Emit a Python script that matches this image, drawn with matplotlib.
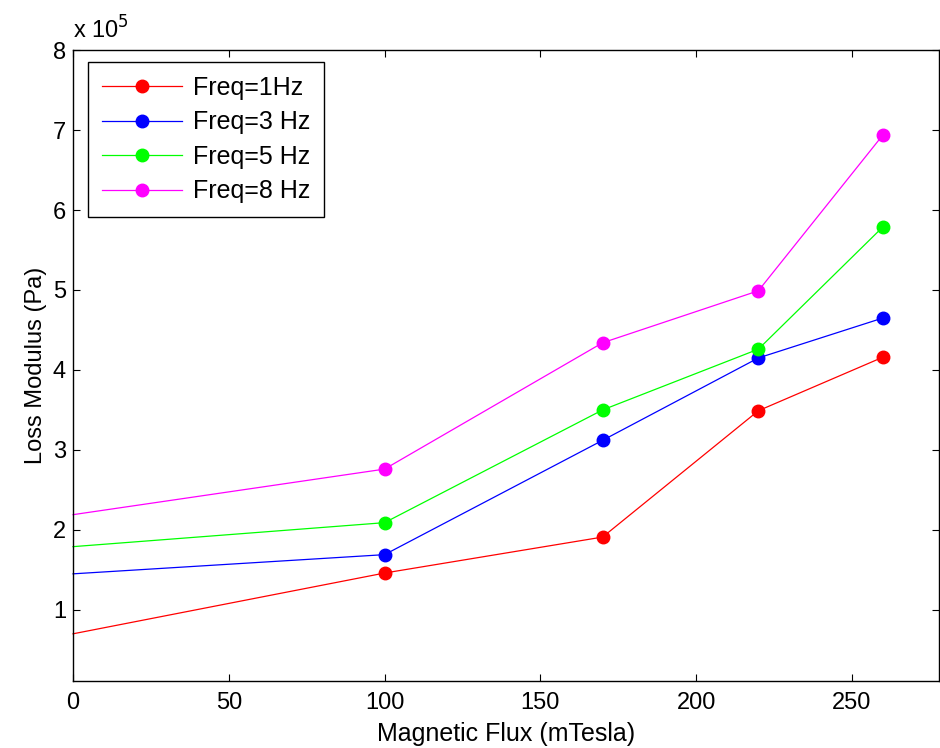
import numpy as np
import matplotlib
matplotlib.use("Agg")
import matplotlib.pyplot as plt
from matplotlib.ticker import FuncFormatter

plt.rcParams['font.family'] = ['Liberation Sans', 'DejaVu Sans']

flux = [0, 100, 170, 220, 260]  # mTesla
freq_1hz = [0.70e5, 1.46e5, 1.91e5, 3.49e5, 4.16e5]
freq_3hz = [1.45e5, 1.69e5, 3.12e5, 4.15e5, 4.65e5]
freq_5hz = [1.79e5, 2.09e5, 3.50e5, 4.26e5, 5.79e5]
freq_8hz = [2.19e5, 2.76e5, 4.34e5, 4.99e5, 6.94e5]
labels = ['Freq=1Hz', 'Freq=3 Hz', 'Freq=5 Hz', 'Freq=8 Hz']
colors = ['#ff0000', '#0000ff', '#00ff00', '#ff00ff']

fig = plt.figure(figsize=(9.4, 7.48), dpi=100)
ax = fig.add_axes([0.0777, 0.0896, 0.9213, 0.8434])

for ys, lab, c in zip([freq_1hz, freq_3hz, freq_5hz, freq_8hz], labels, colors):
    ax.plot(flux, ys, '-o', color=c, lw=0.9, markersize=9, markevery=[1, 2, 3, 4],
            label=lab, clip_on=False)

ax.set_xlim(0, 278)
ax.set_ylim(0.11e5, 8e5)
ax.set_xticks([0, 50, 100, 150, 200, 250])
ax.set_yticks(np.arange(1, 9) * 1e5)
ax.yaxis.set_major_formatter(FuncFormatter(lambda v, p: '%g' % (v / 1e5)))
ax.tick_params(direction='in', top=True, right=True, length=5, width=0.8, labelsize=17)
ax.tick_params(axis='x', pad=8)
ax.tick_params(axis='y', pad=5)
for s in ax.spines.values():
    s.set_linewidth(1.0)

ax.text(0.0, 1.01, r'x 10$^5$', transform=ax.transAxes, fontsize=17, ha='left', va='bottom')
ax.set_xlabel('Magnetic Flux (mTesla)', fontsize=18, labelpad=6)
ax.set_ylabel('Loss Modulus (Pa)', fontsize=17, labelpad=4)

leg = ax.legend(loc='upper left', bbox_to_anchor=(0.017, 0.981), borderaxespad=0,
                fontsize=18, handlelength=3.2, labelspacing=0.42, fancybox=False,
                edgecolor='black', framealpha=1, borderpad=0.55, handletextpad=0.45)
leg.get_frame().set_linewidth(1.0)

fig.savefig('out.png', dpi=100)
